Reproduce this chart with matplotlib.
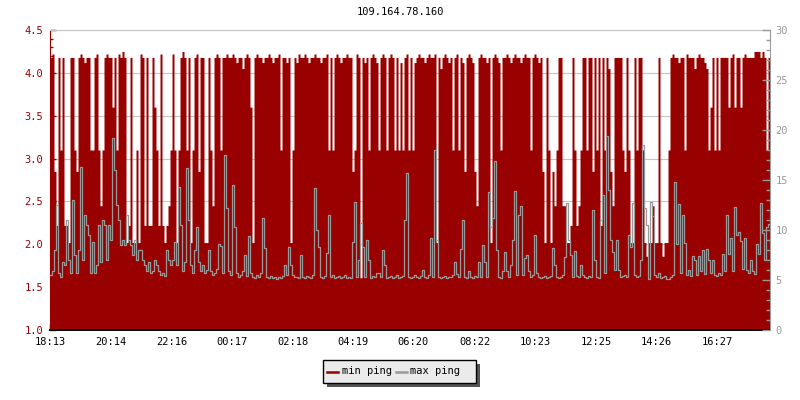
import matplotlib
matplotlib.use('Agg')
import matplotlib.pyplot as plt
from matplotlib.lines import Line2D
from matplotlib.patches import Rectangle
import numpy as np

plt.rcParams['font.family'] = 'DejaVu Sans Mono'
plt.rcParams['font.size'] = 7.5

title = "109.164.78.160"
start_time = "18:13"
span_minutes = 1440      # one day on the x axis
step_minutes = 4         # one sample every 4 minutes

tick_labels = ["18:13", "20:14", "22:16", "00:17", "02:18", "04:19",
               "06:20", "08:22", "10:23", "12:25", "14:26", "16:27"]

# min ping, one letter per sample (left axis, ms)
min_levels = {'I': 4.25, 'K': 4.22, 'H': 4.18, 'J': 4.12, 'G': 4.05,
              'T': 3.6, 'S': 3.1, 'R': 2.85, 'Q': 2.45, 'P': 2.22,
              'O': 2.02, 'N': 1.86, 'L': 1.61}
min_rows = [
    "HKRPHSHPPO", "HHSRHKHJHH", "SSHKSQSHKH", "HTHSKHIHOP", "HOOSOKHPHP",
    "PHTSPKPOPQ", "SKSOSHIHSH", "OSHKRHHOOH", "SQHKHSHHKH", "HKHJHHGHKH",
    "TOHKHHJHHK", "HJHHKSHHJH", "OSHJKHHKHJ", "HHKHHJHHKS", "HSHKHJHHKH",
    "HRSKHLHJHS", "HKHJSHKHSH", "KHSHSJSHKS", "HSJHKHHJHK", "HHKOHGHKHJ",
    "HSHKSHJRHK", "HJRQHKHHJH", "OHKHJSHHKH", "JHKHHJHKHH", "SHKHJHROHS",
    "ORQSHHQQOO", "PHSPQSHHSH", "HRHSHPHSHG", "RQHHHHSRHS", "OOHSHHSONO",
    "OQOOHONOOS", "HKHHJHHSKH", "HHGHKHHJGS", "THSHSHHHHT", "HKTHHTHKHH",
    "HHIIIHIHSH",
]

# max ping (right axis, ms)
max_ping = [
    5.5, 5.9, 8.0, 12.5, 5.7, 5.3, 6.8, 6.5, 11.0, 7.0,
    5.7, 13.0, 7.5, 5.7, 8.0, 16.3, 7.0, 11.5, 10.5, 9.5,
    5.7, 8.8, 5.7, 6.5, 10.5, 6.8, 11.0, 10.5, 7.0, 10.5,
    9.0, 19.2, 16.0, 12.5, 11.0, 8.5, 9.0, 8.5, 11.5, 9.0,
    8.5, 7.5, 9.0, 7.0, 8.0, 8.0, 7.0, 6.5, 5.9, 6.8,
    5.7, 5.9, 7.0, 6.5, 5.9, 5.5, 5.7, 5.4, 8.0, 7.0,
    6.5, 7.0, 8.8, 6.5, 14.3, 10.5, 5.9, 6.8, 16.2, 11.0,
    6.5, 5.7, 8.0, 10.3, 6.8, 5.9, 6.5, 5.7, 6.0, 8.0,
    5.9, 5.5, 5.7, 6.1, 8.6, 8.4, 5.7, 17.5, 12.2, 5.9,
    5.5, 14.5, 10.3, 5.7, 5.3, 5.5, 5.9, 7.5, 5.4, 9.4,
    5.7, 5.3, 5.2, 5.5, 5.3, 5.7, 11.2, 8.2, 5.3, 5.2,
    5.4, 5.2, 5.3, 5.1, 5.3, 5.2, 5.4, 6.5, 5.5, 8.3,
    6.5, 5.5, 5.3, 5.3, 5.2, 7.5, 5.3, 5.2, 5.4, 5.3,
    5.2, 5.5, 14.2, 10.0, 8.3, 5.3, 5.2, 5.4, 7.7, 11.5,
    5.3, 5.5, 5.2, 5.3, 5.4, 5.2, 5.3, 5.5, 5.2, 5.3,
    5.2, 8.8, 12.8, 5.3, 7.0, 10.7, 8.3, 5.3, 9.0, 7.0,
    5.2, 5.4, 5.3, 5.7, 5.7, 5.3, 8.0, 6.5, 5.2, 5.3,
    5.4, 5.2, 5.3, 5.5, 5.2, 5.3, 5.4, 11.0, 15.7, 5.3,
    5.2, 5.3, 5.5, 5.3, 5.2, 5.4, 6.0, 5.3, 5.2, 5.5,
    9.2, 5.3, 18.0, 9.0, 5.3, 5.2, 5.3, 5.4, 5.2, 5.3,
    5.3, 5.5, 6.8, 5.6, 5.3, 8.1, 11.0, 5.3, 5.2, 5.9,
    5.3, 5.2, 5.4, 5.3, 6.8, 5.3, 8.5, 6.8, 5.3, 13.8,
    10.3, 11.2, 16.9, 8.0, 5.3, 5.2, 5.9, 7.8, 5.9, 5.3,
    6.5, 9.0, 13.9, 5.5, 11.5, 12.4, 5.5, 7.2, 7.5, 5.9,
    5.3, 5.5, 9.5, 5.7, 5.3, 5.2, 5.3, 5.4, 5.2, 5.3,
    5.4, 8.2, 6.5, 5.3, 5.2, 5.3, 5.5, 7.3, 12.7, 9.0,
    7.5, 5.3, 7.9, 5.4, 5.3, 6.5, 5.5, 5.3, 5.2, 5.4,
    5.3, 12.0, 7.0, 5.3, 5.2, 11.0, 13.5, 5.7, 19.4, 14.0,
    9.0, 7.8, 6.0, 9.0, 6.0, 5.3, 5.4, 5.5, 5.3, 9.5,
    8.3, 12.7, 5.5, 5.3, 5.4, 7.0, 18.5, 12.2, 10.5, 5.1,
    12.8, 11.4, 5.5, 5.3, 5.7, 5.2, 5.3, 5.4, 5.1, 5.1,
    5.3, 5.5, 14.8, 8.6, 12.6, 5.7, 11.5, 8.7, 5.5, 6.0,
    5.4, 7.4, 7.0, 5.5, 7.4, 5.9, 8.0, 5.6, 8.1, 7.0,
    5.7, 7.0, 5.5, 5.4, 5.7, 5.5, 7.6, 5.9, 11.5, 7.6,
    9.2, 5.9, 12.3, 9.5, 9.8, 8.9, 6.1, 9.2, 6.0, 5.7,
    7.0, 5.9, 5.6, 8.6, 7.6, 12.7, 9.7, 7.0, 10.3, 10.6,
]

RED = '#990000'
GREY = '#999999'
GRID = '#c4c4c4'
W, H = 800, 400


def minutes_from_start(label):
    h, m = map(int, label.split(':'))
    sh, sm = map(int, start_time.split(':'))
    return ((h * 60 + m) - (sh * 60 + sm)) % 1440


min_ping = np.array([min_levels[c] for c in "".join(min_rows)])
max_arr = np.array(max_ping)
x = np.arange(len(min_ping)) * step_minutes
x_edge = np.append(x, x[-1] + step_minutes)

fig = plt.figure(figsize=(W / 100, H / 100), dpi=100, facecolor='white')
ax = fig.add_axes([50 / W, 70 / H, 720 / W, 300 / H])
ax2 = ax.twinx()

ax.fill_between(x_edge, 1.0, np.append(min_ping, min_ping[-1]), step='post',
                color=RED, linewidth=0, zorder=2)
ax2.plot(x_edge, np.append(max_arr, max_arr[-1]), drawstyle='steps-post',
         color=GREY, linewidth=0.9)

ax.set_xlim(0, span_minutes)
ax.set_ylim(1.0, 4.5)
ax2.set_ylim(0, 30)

ax.set_xticks([minutes_from_start(t) for t in tick_labels])
ax.set_xticklabels(tick_labels)
ax.set_yticks(np.arange(1.0, 4.51, 0.5))
ax.set_yticklabels([f"{v:.1f}" for v in np.arange(1.0, 4.51, 0.5)])
ax.set_yticks(np.arange(1.0, 4.51, 0.1), minor=True)
ax2.set_yticks(np.arange(0, 31, 5))
ax2.set_yticks(np.arange(0, 31, 1), minor=True)

ax.grid(axis='y', color=GRID, linewidth=0.8, zorder=0)
ax.set_axisbelow(True)

ax.tick_params(axis='x', which='major', colors='black', direction='in',
               length=4, width=1, pad=5)
ax.tick_params(axis='y', which='major', colors=RED, direction='in',
               length=4, width=1, pad=5)
ax.tick_params(axis='y', which='minor', colors=RED, direction='in',
               length=2, width=1)
ax2.tick_params(axis='y', which='major', colors=GREY, direction='in',
                length=6, width=1, pad=4)
ax2.tick_params(axis='y', which='minor', colors=GREY, direction='in',
                length=3, width=1)

ax.spines['left'].set_color(RED)
ax.spines['bottom'].set_color('black')
ax.spines['bottom'].set_linewidth(1.4)
ax.spines['top'].set_color(GRID)
ax.spines['right'].set_visible(False)
for s in ('left', 'top', 'bottom'):
    ax2.spines[s].set_visible(False)
ax2.spines['right'].set_color(GREY)

fig.text(0.5, 1 - 12 / H, title, ha='center', va='center', color='black')


# hand-made legend box with drop shadow
def px_rect(x0, y0, x1, y1, **kw):
    return Rectangle((x0 / W, 1 - y1 / H), (x1 - x0) / W, (y1 - y0) / H,
                     transform=fig.transFigure, **kw)


fig.add_artist(px_rect(327, 364, 480, 387, facecolor='#555555', edgecolor='none'))
fig.add_artist(px_rect(323, 360, 476, 383, facecolor='#ebebeb',
                       edgecolor='black', linewidth=1))
legend_items = [("min ping", RED, 327, 342), ("max ping", GREY, 396, 410)]
for label, color, hx, tx in legend_items:
    fig.add_artist(Line2D([hx / W, (hx + 11) / W], [1 - 371.5 / H] * 2,
                          transform=fig.transFigure, color=color, linewidth=1.8))
    fig.text(tx / W, 1 - 370.5 / H, label, ha='left', va='center', color='black')

fig.savefig('out.png', dpi=100, facecolor='white')
